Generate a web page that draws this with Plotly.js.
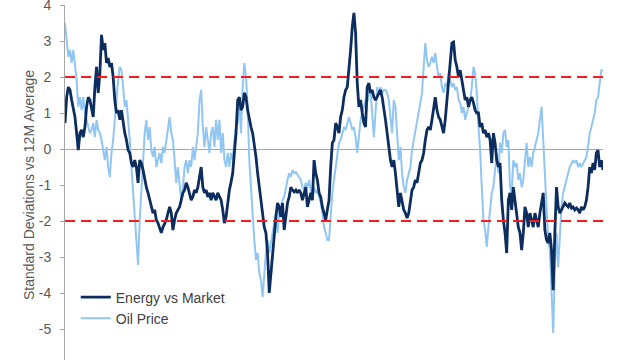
<!DOCTYPE html>
<html>
<head>
<meta charset="utf-8">
<script src="https://cdn.plot.ly/plotly-3.0.1.min.js"></script>
<style>
html, body { margin: 0; padding: 0; width: 640px; height: 360px; overflow: hidden; background: #fff; }
#chart { position: absolute; left: 0; top: -8px; width: 640px; height: 383px; }
</style>
</head>
<body>
<div id="chart"></div>
<script>
// Series values (standard deviations vs 12M average)
const energyVsMarket = [
  0.72,1.44,1.72,1.64,1.36,1.08,0.89,0.44,-0.03,0.44,0.53,0.33,0.61,1.17,1.44,1.36,1.08,0.89,1.72,2.28,
  1.56,2.11,3.17,2.75,2.94,2.39,2.53,2.28,2.39,2.00,1.36,1.00,1.08,0.81,1.08,0.72,0.44,0.25,-0.03,-0.11,
  -0.39,-0.50,-0.31,-0.50,-0.94,-0.31,-0.39,-0.58,-0.86,-1.06,-1.22,-1.42,-1.61,-1.78,-1.69,-1.97,-2.06,-2.17,-2.33,-2.17,
  -2.06,-1.97,-1.78,
  -1.61,-1.78,-2.25,-1.97,-1.78,-1.69,-1.61,-1.42,-1.22,-1.14,-0.94,-1.06,-1.22,-1.42,-1.33,-1.14,-1.22,-1.06,-0.78,-0.50,
  -1.06,-1.22,-1.14,-1.33,-1.22,-1.42,-1.22,-1.33,-1.42,-1.22,-1.33,-1.42,-1.69,-2.06,-1.89,-1.42,-1.14,-0.92,-0.67,-0.11,
  0.44,1.36,1.44,1.08,1.17,1.56,1.44,1.08,0.81,0.61,0.44,0.17,-0.22,-0.67,-1.06,-1.42,-1.89,-2.17,-2.33,-2.89,
  -4.00,-3.44,-2.89,-2.53,-1.89,
  -1.50,-1.61,-1.89,-1.50,-2.25,-1.78,-1.50,-1.33,-1.06,-1.14,-1.19,-1.14,-1.22,-1.14,-1.22,-1.42,-1.22,-1.06,-1.61,-1.42,
  -1.22,-1.42,-0.31,-0.67,-0.86,-1.22,-1.33,-1.61,-1.78,-1.97,-1.69,-1.42,-0.50,0.17,0.25,0.72,0.61,0.44,0.89,1.08,
  1.44,1.64,1.72,2.19,2.75,3.39,3.78,3.22,1.83,1.17,1.36,1.00,0.72,0.61,1.72,1.83,1.56,1.64,1.44,1.36,
  1.44,1.56,1.64,1.44,1.17,
  0.81,0.44,0.06,-0.31,-0.50,-0.31,-0.67,-1.06,-1.61,-1.22,-1.42,-1.69,-1.78,-1.92,-1.78,-1.50,-1.14,-1.06,-0.86,-0.94,
  -0.67,-0.39,-0.31,-0.11,0.25,0.53,0.61,0.53,0.81,1.08,1.44,1.08,0.89,0.81,0.61,0.44,0.81,1.36,1.83,2.47,
  2.94,2.97,2.47,2.28,2.00,2.19,1.92,1.56,1.36,1.44,1.17,1.36,1.44,1.28,1.08,1.00,1.00,0.61,0.72,0.44,
  0.53,0.33,0.44,0.25,-0.39,
  0.44,0.17,-0.31,-0.50,-0.39,-1.42,-1.97,-2.33,-2.89,-1.42,-1.22,-1.69,-1.06,-1.42,-1.78,-2.17,-2.33,-2.81,-2.33,-1.61,
  -1.78,-2.17,-1.78,-1.97,-2.17,-1.78,-1.97,-2.17,-1.78,-1.42,-1.22,-2.25,-2.53,-2.61,-2.33,-2.81,-3.92,-2.33,-1.06,-1.61,
  -1.78,-1.69,-1.61,-1.50,-1.56,-1.61,-1.50,-1.64,-1.61,-1.69,-1.64,-1.69,-1.78,-1.61,-1.69,-1.61,-1.42,-1.06,-0.50,-0.67,
  -0.39,-0.58,-0.11,-0.03,-0.50,-0.31,-0.58
];

const oilPrice = [
  3.50,3.11,2.56,2.75,2.39,2.75,2.28,1.92,1.17,1.44,1.08,1.44,1.00,0.81,0.61,0.44,0.53,0.72,0.33,0.81,
  0.53,0.44,0.25,-0.11,-0.31,0.06,-0.50,-0.78,-0.11,0.25,0.81,1.56,1.92,2.28,2.19,1.72,1.17,1.36,0.89,0.25,
  -0.50,-1.22,-1.78,-2.67,-3.22,-1.97,-1.06,-0.31,0.44,0.81,0.25,0.61,-0.03,-0.22,0.06,-0.50,-0.31,-0.11,-0.39,0.06,
  -0.11,0.25,0.61,
  0.89,0.44,0.25,-0.31,-0.94,-0.50,-1.06,-1.42,-1.06,-0.50,-0.31,-0.67,-0.31,-0.50,0.06,-0.31,0.06,0.44,1.36,1.64,
  0.61,0.06,0.61,0.25,-0.11,0.44,0.61,0.06,0.81,0.25,0.81,-0.11,0.44,-0.31,-0.50,-0.11,-0.50,-0.11,-0.31,0.25,
  0.61,0.72,1.36,0.44,1.72,2.39,2.00,1.17,-0.31,-1.06,-1.89,-2.53,-3.08,-2.89,-3.44,-3.64,-4.11,-3.44,-2.89,-2.53,
  -2.89,-2.61,-2.33,-2.17,-1.78,
  -2.33,-1.78,-1.61,-1.42,-1.33,-1.06,-0.86,-0.67,-0.78,-0.58,-0.67,-0.64,-0.72,-0.78,-0.86,-1.06,-1.14,-0.94,-1.06,-0.86,
  -1.22,-1.42,-1.06,-1.22,-1.14,-1.33,-1.50,-1.78,-2.17,-2.33,-2.53,-2.53,-1.78,-1.22,-0.86,-0.50,-0.22,0.17,0.25,0.44,
  0.61,0.53,0.72,0.89,0.72,0.53,0.61,0.33,-0.11,0.44,0.81,1.00,1.17,1.36,1.28,1.56,1.64,1.08,0.33,1.00,
  1.72,1.56,1.72,1.56,1.64,
  1.64,1.56,1.36,0.81,0.44,1.36,1.17,0.44,-0.31,0.06,-0.67,-1.06,-1.22,-0.86,-0.67,-0.50,-0.03,0.25,0.44,0.81,
  1.00,1.36,1.56,2.28,2.94,2.47,2.28,2.39,2.56,2.39,2.67,2.28,2.00,2.11,1.72,1.56,1.83,1.72,2.11,1.92,
  1.72,1.83,1.64,1.72,1.36,1.28,1.00,1.17,0.81,1.00,1.17,1.36,1.72,2.28,2.11,1.56,0.61,-0.03,-1.06,-1.97,
  -2.25,-2.72,-2.17,-1.61,-1.22,
  -1.06,-0.50,-0.11,-0.67,0.17,-0.11,0.44,0.53,0.06,0.25,-1.06,-1.22,-0.31,-0.50,-0.39,-0.86,-0.67,-1.06,-0.86,-0.31,
  0.17,-0.50,-0.22,-0.50,-0.11,0.06,0.25,0.44,0.81,1.17,0.25,-0.67,-1.78,-2.53,-2.81,-3.83,-5.11,-3.28,-2.33,-3.28,
  -2.53,-1.61,-1.22,-1.06,-0.86,-0.67,-0.50,-0.39,-0.31,-0.39,-0.31,-0.50,-0.39,-0.50,-0.39,-0.31,-0.22,0.06,0.44,0.61,
  0.81,1.00,1.36,1.44,1.83,2.19,2.19
];

const seriesNames = ["Energy vs Market", "Oil Price"];
const thresholds = [2, -2];
const yTickValues = [4, 3, 2, 1, 0, -1, -2, -3, -4, -5, -6];
const yTickLabels = ["4", "3", "2", "1", "0", "-1", "-2", "-3", "-4", "-5", "-6"];

const periods = energyVsMarket.map((_, i) => i);
const lastPeriod = periods[periods.length - 1];

const traces = [
  {
    x: periods, y: oilPrice, name: seriesNames[1], type: "scatter", mode: "lines",
    line: { color: "#91c6f2", width: 2 }, legendrank: 2
  },
  {
    x: periods, y: energyVsMarket, name: seriesNames[0], type: "scatter", mode: "lines",
    line: { color: "#0d2d5e", width: 2.8 }, legendrank: 1
  }
];
thresholds.forEach(t => {
  traces.push({
    x: [0, lastPeriod], y: [t, t], type: "scatter", mode: "lines", showlegend: false,
    hoverinfo: "skip", line: { color: "#ff1a1a", width: 2, dash: "10px,6px" }
  });
});

const layout = {
  width: 640, height: 383,
  margin: { l: 65, r: 37, t: 13, b: 10 },
  paper_bgcolor: "#ffffff", plot_bgcolor: "#ffffff",
  font: { family: "Liberation Sans, Arial, sans-serif", size: 14, color: "#595959" },
  showlegend: true,
  legend: {
    x: 0.02, y: 0.232, xanchor: "left", yanchor: "top",
    bgcolor: "rgba(0,0,0,0)", borderwidth: 0,
    font: { family: "Liberation Sans, Arial, sans-serif", size: 14, color: "#404040" }
  },
  xaxis: {
    range: [0, lastPeriod], showgrid: false, zeroline: false, showline: false,
    showticklabels: false, ticks: ""
  },
  yaxis: {
    range: [-6, 4], tickmode: "array", tickvals: yTickValues, ticktext: yTickLabels,
    showgrid: false, zeroline: true, zerolinecolor: "#a6a6a6", zerolinewidth: 1,
    showline: true, linecolor: "#a6a6a6", linewidth: 1,
    ticks: "outside", ticklen: 4, tickcolor: "#a6a6a6", ticklabelstandoff: 6,
    tickfont: { size: 14, color: "#595959" },
    title: { text: "Standard Deviations vs 12M Average", font: { size: 14, color: "#595959" }, standoff: 0 }
  }
};

Plotly.newPlot("chart", traces, layout, { displayModeBar: false, staticPlot: true });
</script>
</body>
</html>
